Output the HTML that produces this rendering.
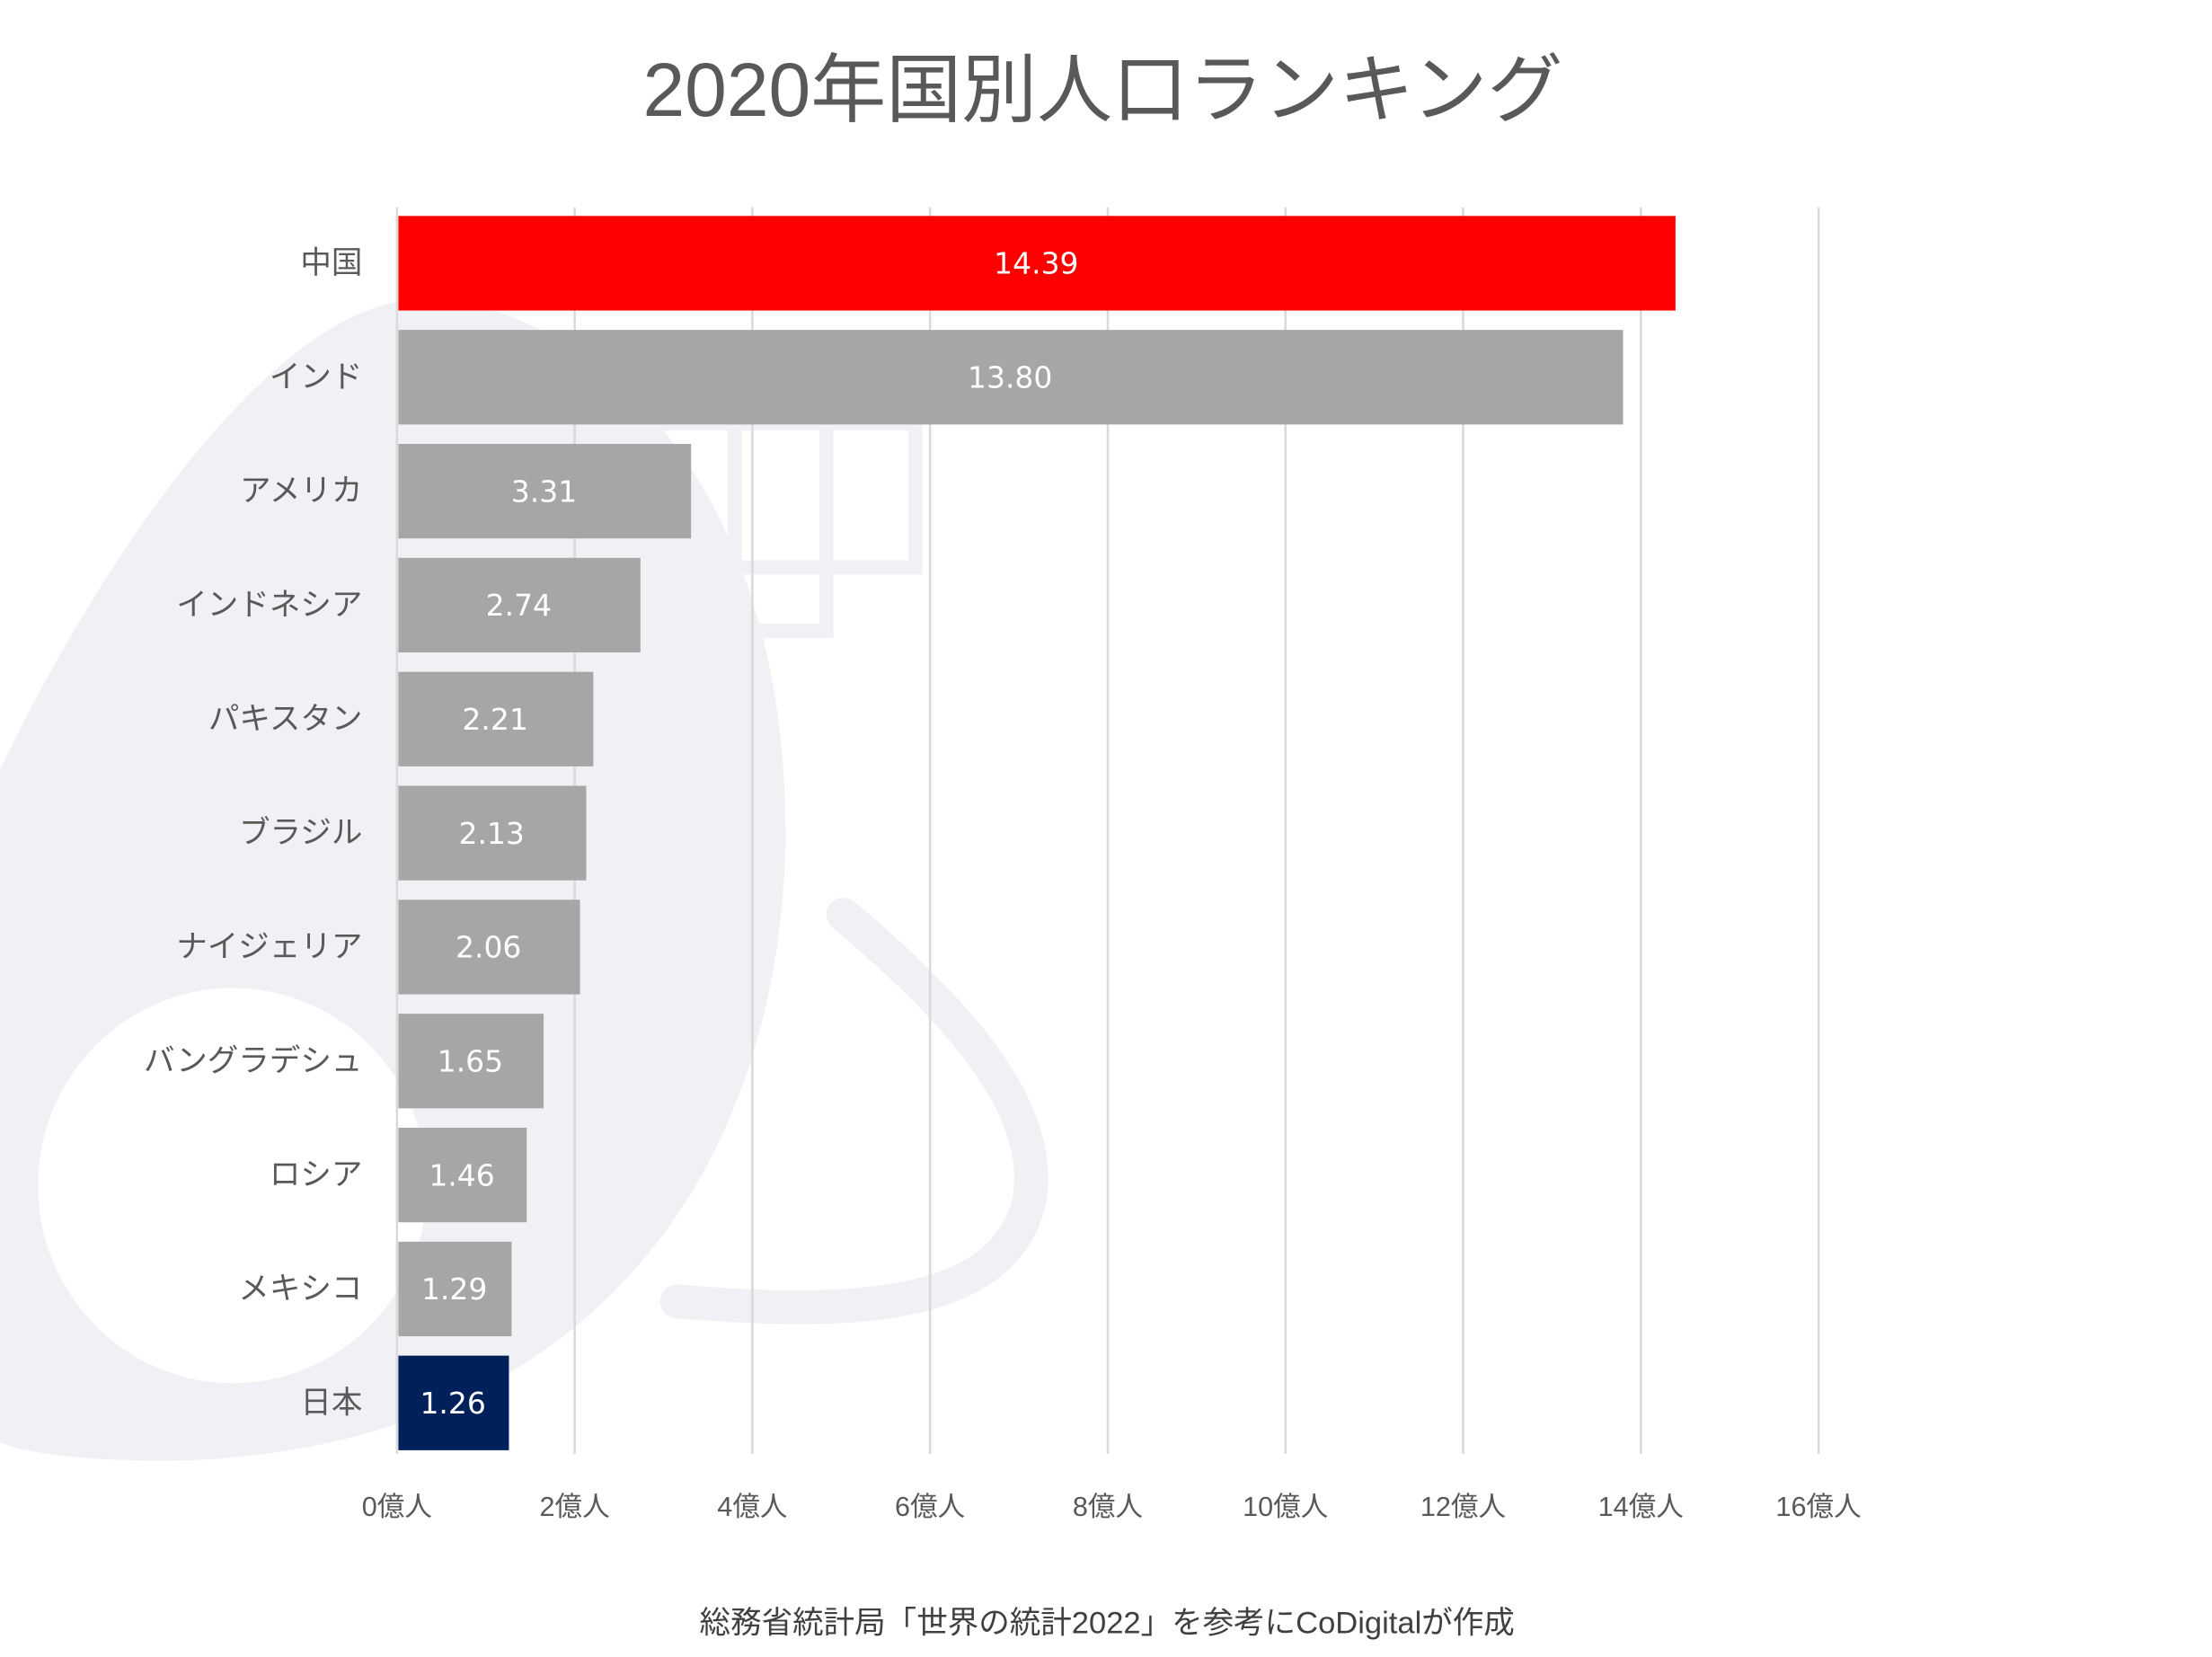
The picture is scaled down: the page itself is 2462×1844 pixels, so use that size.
<!DOCTYPE html>
<html><head><meta charset="utf-8"><style>
html,body{margin:0;padding:0;background:#fff;}
svg{display:block;}
</style></head><body>
<svg id="chart" xmlns="http://www.w3.org/2000/svg" width="2462" height="1844" viewBox="0 0 1568.5 1174" preserveAspectRatio="none" font-family="'DejaVu Sans','Liberation Sans','Noto Sans CJK JP',sans-serif">
  <g fill="#f0f1f5">
    <path d="M0,545 C80,380 200,212 300,212 C410,214 560,330 557,600 C550,850 400,1030 120,1035 C60,1035 20,1030 0,1022 Z"/>
    <ellipse cx="165" cy="840" rx="138" ry="140" fill="#fff"/>
    <path d="M598,648 C690,725 740,790 730,850 C712,930 600,932 480,922" fill="none" stroke="#f0f1f5" stroke-width="24" stroke-linecap="round"/>
    <rect x="382" y="300" width="204" height="147" fill="none" stroke="#f0f1f5" stroke-width="10"/>
    <rect x="521" y="300" width="128" height="102" fill="none" stroke="#f0f1f5" stroke-width="10"/>
  </g>
  <text x="782" y="82" text-anchor="middle" font-size="53.5" fill="#595959" font-family="'Liberation Sans','Noto Sans CJK JP',sans-serif">2020年国別人口ランキング</text>
  <g id="grid"></g>
  <g id="bars"></g>
  <g id="xticks"></g>
  <text x="785" y="1157" text-anchor="middle" font-size="22" fill="#404040" font-family="'Liberation Sans','Noto Sans CJK JP',sans-serif">総務省統計局「世界の統計2022」を参考にCoDigitalが作成</text>
</svg>
<script>
const categories = ["中国","インド","アメリカ","インドネシア","パキスタン","ブラジル","ナイジェリア","バングラデシュ","ロシア","メキシコ","日本"];
const values = [14.39,13.80,3.31,2.74,2.21,2.13,2.06,1.65,1.46,1.29,1.26];
const valueLabels = ["14.39","13.80","3.31","2.74","2.21","2.13","2.06","1.65","1.46","1.29","1.26"];
const tickValues = [0,2,4,6,8,10,12,14,16];
const tickLabels = ["0億人","2億人","4億人","6億人","8億人","10億人","12億人","14億人","16億人"];

const NS = "http://www.w3.org/2000/svg";
const X0 = 281.5, X16 = 1289.5, PLOT_TOP = 147, PLOT_BOTTOM = 1030;
const BAR_TOP = 153, PITCH = 80.75, BAR_H = 67;
function xScale(v){ return X0 + (X16 - X0) * v / 16; }
function yBand(i){ return BAR_TOP + i * PITCH; }
function mk(tag, attrs, parent){ const e = document.createElementNS(NS, tag); for (const k in attrs) e.setAttribute(k, attrs[k]); parent.appendChild(e); return e; }

const grid = document.getElementById('grid');
const xt = document.getElementById('xticks');
tickValues.forEach((t, i) => {
  const l = mk('line', {x1: xScale(t), x2: xScale(t), y1: PLOT_TOP, y2: PLOT_BOTTOM, stroke: '#d9d9d9', 'stroke-width': 1.6}, grid);
  
  
  const tx = mk('text', {x: xScale(t), y: 1074, 'text-anchor': 'middle', 'font-size': 19.5, fill: '#595959', 'font-family': "'Liberation Sans','Noto Sans CJK JP',sans-serif"}, xt);
  tx.textContent = tickLabels[i];
  
  
});

const bars = document.getElementById('bars');
categories.forEach((c, i) => {
  const y = yBand(i);
  const color = i === 0 ? '#ff0000' : (c === '日本' ? '#00205b' : '#a6a6a6');
  const r = mk('rect', {x: xScale(0) + 1, y: y, width: xScale(values[i]) - xScale(0) - 1, height: BAR_H, fill: color}, bars);
  
  
  const v = mk('text', {x: (xScale(0) + xScale(values[i])) / 2, y: y + BAR_H / 2 + 7.5, 'text-anchor': 'middle', 'font-size': 21, fill: '#ffffff'}, bars);
  v.textContent = valueLabels[i];
  
  
  const lb = mk('text', {x: 257, y: y + BAR_H / 2 + 7, 'text-anchor': 'end', 'font-size': 22, fill: '#595959', 'font-family': "'Liberation Sans','Noto Sans CJK JP',sans-serif"}, bars);
  lb.textContent = c;
  
  
});
</script>
</body></html>
